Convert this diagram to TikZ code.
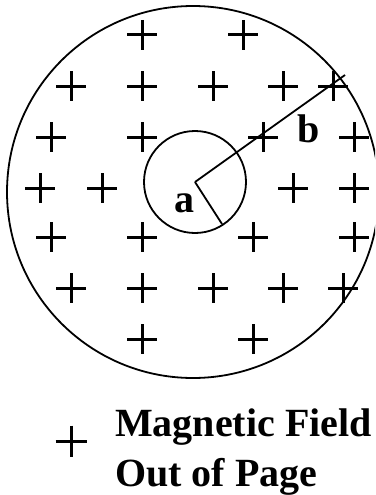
\documentclass[tikz,border=0pt]{standalone}
\usepackage{fontspec}
\setmainfont{Liberation Serif}
\begin{document}
\begin{tikzpicture}[x=1pt,y=-1pt,
  ring/.style={draw,circle,line width=1.8pt,inner sep=0pt},
  radius line/.style={line width=1.8pt},
  plusmark/.style={line width=3pt},
  lbl/.style={inner sep=0pt,font=\fontsize{40}{50}\selectfont\bfseries}]
\useasboundingbox (0,0) rectangle (375,495);
\clip (0,0) rectangle (375,495);
% circles
\node[ring,minimum size=372pt] (outer) at (193,192) {};
\node[ring,minimum size=102pt] (inner) at (195,182) {};
% radii
\coordinate (bend) at (345,75);
\coordinate (aend) at (222,224);
\draw[radius line] (inner.center) -- (bend);
\draw[radius line] (inner.center) -- (aend);
\node[lbl,anchor=base] (la) at (184.5,212) {a};
\node[lbl,anchor=base] (lb) at (309,142) {b};
% plus signs
\newcommand{\plusat}[2]{\draw[plusmark] (#1-15,#2) -- (#1+15,#2) (#1,#2-15) -- (#1,#2+15);}
\foreach \x in {142,243} {\plusat{\x}{35}}
\foreach \x in {71,142,213,283,333} {\plusat{\x}{86}}
\foreach \x in {51,142,263,354} {\plusat{\x}{137}}
\foreach \x in {40,102,293,354} {\plusat{\x}{188}}
\foreach \x in {51,142,253,354} {\plusat{\x}{237}}
\foreach \x in {71,142,213,283,343} {\plusat{\x}{288}}
\foreach \x in {142,253} {\plusat{\x}{339}}
% legend
\draw[plusmark] (55.5,441) -- (86.5,441) (71,425.5) -- (71,456.5);
\node[lbl,anchor=base west] (l1) at (115,436) {Magnetic Field};
\node[lbl,anchor=base west] (l2) at (115,486) {Out of Page};
\end{tikzpicture}
\end{document}
